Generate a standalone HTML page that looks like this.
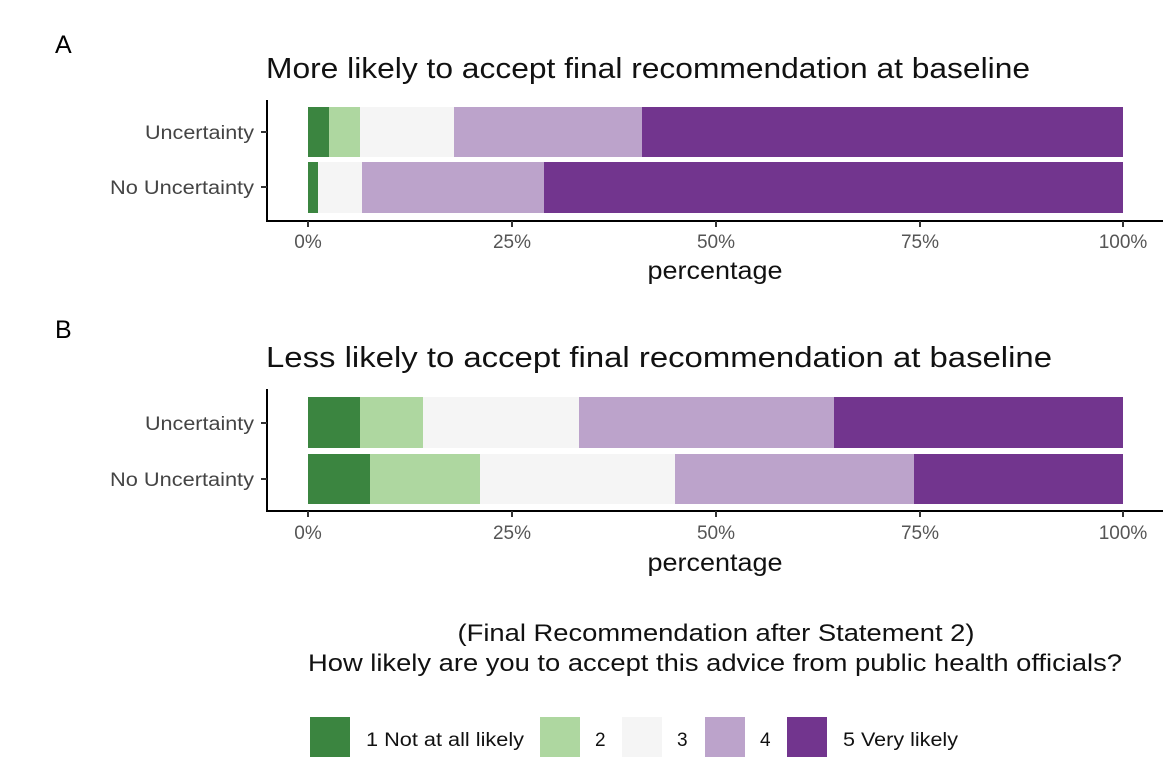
<!DOCTYPE html>
<html><head><style>
body{margin:0;background:#fff;}
svg text{font-family:"Liberation Sans",sans-serif;}
</style></head><body>
<svg width="1170" height="758" xmlns="http://www.w3.org/2000/svg">
<rect width="1170" height="758" fill="#fff"/>
<!-- Panel A -->
<text x="55" y="53" font-size="25" fill="#000">A</text>
<text x="266" y="78" font-size="29" fill="#111" textLength="764" lengthAdjust="spacingAndGlyphs">More likely to accept final recommendation at baseline</text>
<g>
<rect x="308" y="107" width="21" height="50" fill="#3b8540"/>
<rect x="329" y="107" width="31" height="50" fill="#aed7a0"/>
<rect x="360" y="107" width="94" height="50" fill="#f5f5f5"/>
<rect x="454" y="107" width="188" height="50" fill="#bca3cb"/>
<rect x="642" y="107" width="481" height="50" fill="#72358e"/>
<rect x="308" y="162" width="10" height="51" fill="#3b8540"/>
<rect x="318" y="162" width="44" height="51" fill="#f5f5f5"/>
<rect x="362" y="162" width="182" height="51" fill="#bca3cb"/>
<rect x="544" y="162" width="579" height="51" fill="#72358e"/>
</g>
<line x1="267" y1="100" x2="267" y2="222" stroke="#000" stroke-width="2"/>
<line x1="266" y1="221" x2="1163" y2="221" stroke="#000" stroke-width="2"/>
<line x1="261" y1="132" x2="267" y2="132" stroke="#333" stroke-width="2"/>
<line x1="261" y1="187" x2="267" y2="187" stroke="#333" stroke-width="2"/>
<text x="254" y="139" font-size="19" fill="#444" text-anchor="end" textLength="109" lengthAdjust="spacingAndGlyphs">Uncertainty</text>
<text x="254" y="194" font-size="19" fill="#444" text-anchor="end" textLength="144" lengthAdjust="spacingAndGlyphs">No Uncertainty</text>
<g stroke="#333" stroke-width="2"><line x1="308" y1="221" x2="308" y2="227"/><line x1="512" y1="221" x2="512" y2="227"/><line x1="716" y1="221" x2="716" y2="227"/><line x1="920" y1="221" x2="920" y2="227"/><line x1="1123" y1="221" x2="1123" y2="227"/></g>
<g font-size="19" fill="#555" text-anchor="middle"><text x="308" y="248">0%</text><text x="512" y="248">25%</text><text x="716" y="248">50%</text><text x="920" y="248">75%</text><text x="1123" y="248">100%</text></g>
<text x="715" y="279" font-size="25" fill="#111" text-anchor="middle" textLength="135" lengthAdjust="spacingAndGlyphs">percentage</text>
<!-- Panel B -->
<text x="55" y="338" font-size="25" fill="#000">B</text>
<text x="266" y="367" font-size="29" fill="#111" textLength="786" lengthAdjust="spacingAndGlyphs">Less likely to accept final recommendation at baseline</text>
<g>
<rect x="308" y="397" width="52" height="51" fill="#3b8540"/>
<rect x="360" y="397" width="63" height="51" fill="#aed7a0"/>
<rect x="423" y="397" width="156" height="51" fill="#f5f5f5"/>
<rect x="579" y="397" width="255" height="51" fill="#bca3cb"/>
<rect x="834" y="397" width="289" height="51" fill="#72358e"/>
<rect x="308" y="454" width="62" height="50" fill="#3b8540"/>
<rect x="370" y="454" width="110" height="50" fill="#aed7a0"/>
<rect x="480" y="454" width="195" height="50" fill="#f5f5f5"/>
<rect x="675" y="454" width="239" height="50" fill="#bca3cb"/>
<rect x="914" y="454" width="209" height="50" fill="#72358e"/>
</g>
<line x1="267" y1="389" x2="267" y2="512" stroke="#000" stroke-width="2"/>
<line x1="266" y1="511" x2="1163" y2="511" stroke="#000" stroke-width="2"/>
<line x1="261" y1="423" x2="267" y2="423" stroke="#333" stroke-width="2"/>
<line x1="261" y1="479" x2="267" y2="479" stroke="#333" stroke-width="2"/>
<text x="254" y="430" font-size="19" fill="#444" text-anchor="end" textLength="109" lengthAdjust="spacingAndGlyphs">Uncertainty</text>
<text x="254" y="486" font-size="19" fill="#444" text-anchor="end" textLength="144" lengthAdjust="spacingAndGlyphs">No Uncertainty</text>
<g stroke="#333" stroke-width="2"><line x1="308" y1="511" x2="308" y2="517"/><line x1="512" y1="511" x2="512" y2="517"/><line x1="716" y1="511" x2="716" y2="517"/><line x1="920" y1="511" x2="920" y2="517"/><line x1="1123" y1="511" x2="1123" y2="517"/></g>
<g font-size="19" fill="#555" text-anchor="middle"><text x="308" y="539">0%</text><text x="512" y="539">25%</text><text x="716" y="539">50%</text><text x="920" y="539">75%</text><text x="1123" y="539">100%</text></g>
<text x="715" y="571" font-size="25" fill="#111" text-anchor="middle" textLength="135" lengthAdjust="spacingAndGlyphs">percentage</text>
<!-- Legend -->
<text x="716" y="641" font-size="24" fill="#111" text-anchor="middle" textLength="517" lengthAdjust="spacingAndGlyphs">(Final Recommendation after Statement 2)</text>
<text x="715" y="671" font-size="24" fill="#111" text-anchor="middle" textLength="814" lengthAdjust="spacingAndGlyphs">How likely are you to accept this advice from public health officials?</text>
<rect x="310" y="717" width="40" height="40" fill="#3b8540"/>
<text x="366" y="746" font-size="19" fill="#111" textLength="158" lengthAdjust="spacingAndGlyphs">1 Not at all likely</text>
<rect x="540" y="717" width="40" height="40" fill="#aed7a0"/>
<text x="595" y="746" font-size="19" fill="#111">2</text>
<rect x="622" y="717" width="40" height="40" fill="#f5f5f5"/>
<text x="677" y="746" font-size="19" fill="#111">3</text>
<rect x="705" y="717" width="40" height="40" fill="#bca3cb"/>
<text x="760" y="746" font-size="19" fill="#111">4</text>
<rect x="787" y="717" width="40" height="40" fill="#72358e"/>
<text x="843" y="746" font-size="19" fill="#111" textLength="115" lengthAdjust="spacingAndGlyphs">5 Very likely</text>
</svg>
</body></html>
